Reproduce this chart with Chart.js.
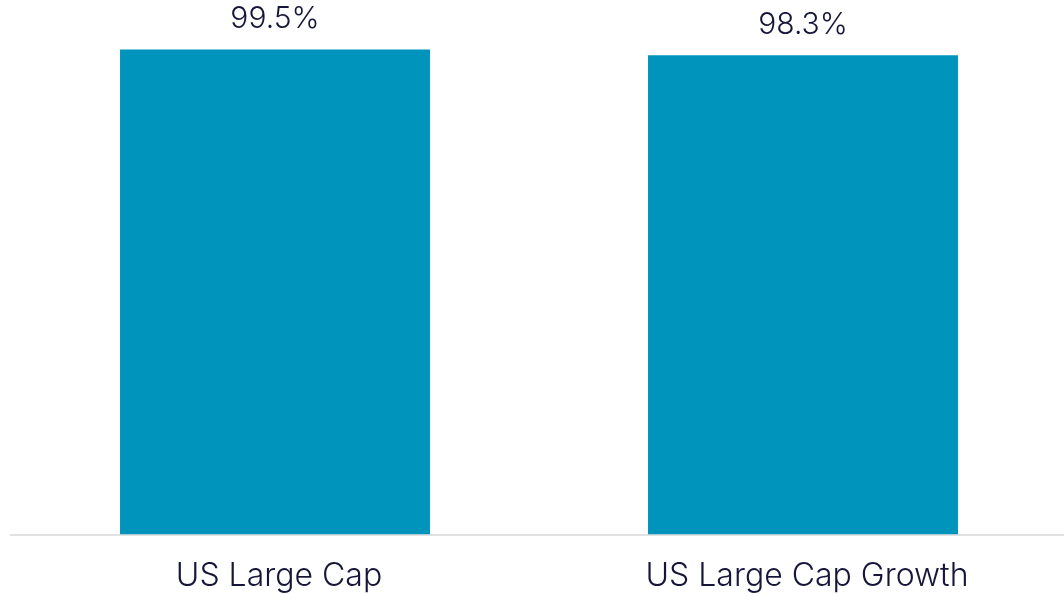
<!DOCTYPE html>
<html><head><meta charset="utf-8">
<script src="https://cdn.jsdelivr.net/npm/chart.js@4"></script>
<style>html,body{margin:0;padding:0;background:#fff;overflow:hidden}#wrap{width:1067px;height:594px}</style>
</head><body><div id="wrap"><canvas id="c"></canvas></div>
<script>
const categories = ["US Large Cap", "US Large Cap Growth"];
const values = [99.5, 98.3];
const valueLabels = ["99.5%", "98.3%"];

const textColor = "#16163a";
const labelPlugin = {
  id: "valLabels",
  afterDatasetsDraw(chart) {
    const ctx = chart.ctx;
    const meta = chart.getDatasetMeta(0);
    ctx.save();
    ctx.font = "300 30px Inter";
    ctx.fillStyle = textColor;
    ctx.textAlign = "center";
    ctx.textBaseline = "bottom";
    meta.data.forEach((bar, i) => {
      ctx.fillText(valueLabels[i], bar.x, bar.y - 15);
    });
    ctx.restore();
  }
};

new Chart(document.getElementById("c"), {
  type: "bar",
  data: {
    labels: categories,
    datasets: [{ data: values, backgroundColor: "#0093bc", categoryPercentage: 1, barPercentage: 0.587 }]
  },
  options: {
    responsive: true, maintainAspectRatio: false, animation: false,
    layout: { padding: { left: 11, top: 47, right: 0, bottom: -16 } },
    plugins: { legend: { display: false }, tooltip: { enabled: false } },
    scales: {
      x: {
        grid: { display: false },
        border: { display: true, color: "#e2e2e2", width: 2 },
        ticks: { color: textColor, font: { family: "Inter", size: 32, weight: 300 }, padding: 14.5, labelOffset: 4 }
      },
      y: { display: false, min: 0, max: 100 }
    }
  },
  plugins: [labelPlugin]
});
</script></body></html>
